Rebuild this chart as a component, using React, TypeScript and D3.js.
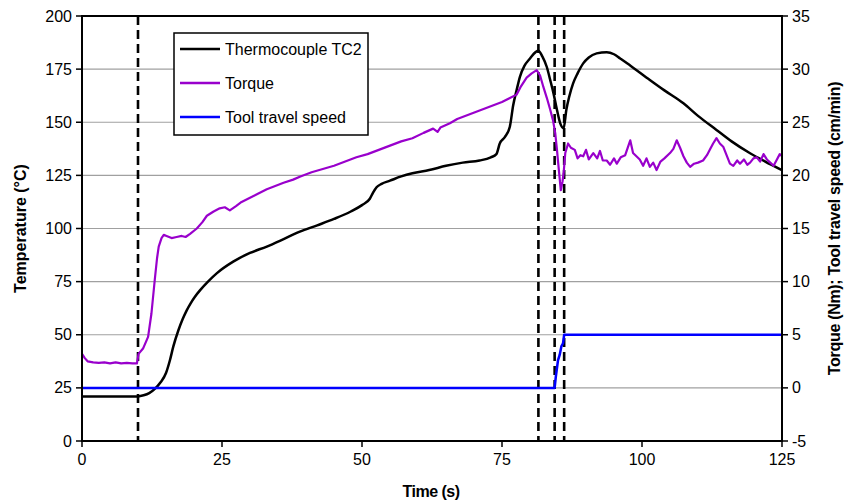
import React from "react";
import * as d3 from "d3";

// ---- Data ----
const tc2Time = [0, 5, 10, 11, 12, 13, 14, 15, 15.7, 16.3, 17.2, 18, 18.7, 19.4, 20.2, 21.1, 22.5, 24.1, 27, 30, 33, 36, 38.9, 42, 45, 48, 50, 51.4, 52, 52.6, 53.5, 55, 57, 59, 62, 65, 68, 71, 73, 74, 74.6, 75.5, 76.4, 77, 77.6, 78.2, 79, 80, 81, 81.5, 82.2, 83, 83.6, 84.2, 84.8, 85.4, 86, 86.5, 87, 87.7, 88.5, 89.5, 90.5, 91.9, 93.7, 95, 96.1, 98, 101.4, 104, 107.4, 110, 113.3, 116, 119.3, 122, 125];
const tc2Temp = [21, 21, 21, 21.5, 22.5, 24.5, 27.5, 32, 38, 44.4, 52, 57.5, 61.5, 64.8, 68, 71, 75, 79, 84.4, 88.5, 91.5, 95, 98.5, 101.5, 104.5, 108, 111, 114, 117, 119.4, 121, 122.5, 124.5, 126, 127.5, 129.5, 131, 132, 133.5, 135, 140, 143, 147.9, 158, 165, 171.4, 176.5, 180, 183, 183.7, 181, 176, 170, 163.6, 156, 149.5, 147.2, 156, 162, 168.3, 173, 177.7, 180.5, 182.4, 183, 182, 180, 176.5, 169.9, 165, 158.9, 153, 146.4, 141, 135.4, 131.5, 127.5];

const torqueTime = [0, 0.5, 1, 2, 3, 4, 5, 6, 7, 8, 9, 9.8, 10.1, 10.9, 11.8, 12.4, 13, 13.4, 13.7, 14.2, 14.6, 15.1, 16, 16.9, 17.8, 18.5, 19.3, 20.5, 21.5, 22.3, 23.5, 24.6, 25.5, 26.4, 27.5, 28.5, 30, 31.5, 33, 34.5, 36, 37.7, 39, 41, 43, 45, 47, 49, 51, 53, 55, 57, 59, 61, 62.7, 63.5, 64, 65.7, 67, 69, 71, 73, 75, 76.5, 77.6, 78.3, 79.4, 80.3, 81.2, 81.8, 82.4, 83, 83.6, 84.1, 84.5, 84.8, 85.1, 85.5, 85.8, 86, 86.3, 86.8, 87.3, 88, 88.5, 89, 89.5, 90, 90.5, 91.3, 92, 92.5, 93, 93.7, 94.3, 95, 95.5, 96.2, 97, 97.9, 98.4, 99, 99.6, 100.2, 100.8, 101.4, 102, 102.6, 103.3, 104, 105, 105.6, 106.2, 106.8, 107.4, 108, 108.6, 109.3, 110, 110.9, 111.6, 112.2, 112.7, 113.3, 113.9, 114.5, 115.1, 115.7, 116.3, 117, 117.5, 118.2, 118.8, 119.3, 119.9, 120.5, 121.1, 121.7, 122.3, 122.9, 123.5, 124, 124.6, 125];
const torqueNm = [3.2, 2.8, 2.5, 2.4, 2.35, 2.4, 2.3, 2.4, 2.3, 2.35, 2.3, 2.3, 3.2, 3.7, 4.8, 7.0, 10.2, 12.2, 13.3, 14.1, 14.4, 14.3, 14.1, 14.2, 14.3, 14.2, 14.5, 15.0, 15.6, 16.2, 16.6, 16.9, 17.0, 16.7, 17.1, 17.5, 17.9, 18.3, 18.7, 19.0, 19.3, 19.6, 19.9, 20.3, 20.6, 20.9, 21.3, 21.7, 22.0, 22.4, 22.8, 23.2, 23.5, 24.0, 24.4, 24.1, 24.5, 24.9, 25.3, 25.7, 26.1, 26.5, 26.9, 27.3, 27.6, 28.3, 29.2, 29.6, 29.9, 29.4, 28.3, 27.3, 26.2, 25.2, 24.0, 22.5, 20.8, 18.6, 19.4, 20.2, 22.1, 23.0, 22.6, 22.4, 21.6, 21.9, 21.8, 22.4, 21.5, 22.1, 21.6, 22.3, 21.4, 21.4, 21.0, 21.6, 21.1, 21.7, 21.9, 23.3, 22.1, 21.8, 21.5, 20.9, 21.6, 20.8, 21.2, 20.5, 21.3, 21.6, 22.1, 22.5, 23.3, 22.6, 21.8, 21.2, 20.8, 21.1, 21.2, 21.4, 21.9, 22.5, 23.0, 23.5, 23.0, 22.7, 21.9, 21.1, 20.9, 21.4, 21.1, 21.5, 21.0, 21.2, 21.6, 21.7, 21.3, 22.0, 21.5, 21.2, 20.9, 21.4, 22.0, 21.8];

const speedTime = [0, 84.4, 84.6, 85, 85.3, 85.6, 85.9, 86.1, 125];
const speedVal = [0, 0, 1.0, 2.6, 3.1, 3.9, 4.2, 5, 5];

const eventTimes = [10, 81.5, 84.4, 86.1];

const xTicks = [0, 25, 50, 75, 100, 125];
const yLeftTicks = [0, 25, 50, 75, 100, 125, 150, 175, 200];
const yRightTicks = [-5, 0, 5, 10, 15, 20, 25, 30, 35];

const legendLabels = ["Thermocouple TC2", "Torque", "Tool travel speed"];
const seriesColors = ["#000000", "#9900CC", "#0000FF"];

// ---- Layout ----
const W = 846, H = 503;
const L = 82, R = 782, T = 16, B = 441;
const FONT = "'Liberation Sans', Arial, sans-serif";

export default function App() {
  const x = d3.scaleLinear().domain([0, 125]).range([L, R]);
  const yL = d3.scaleLinear().domain([0, 200]).range([B, T]);
  const yR = d3.scaleLinear().domain([-5, 35]).range([B, T]);

  const tempLine = d3.line<number>().x((_, i) => x(tc2Time[i])).y((v) => yL(v)).curve(d3.curveMonotoneX);
  const torqueLine = d3.line<number>().x((_, i) => x(torqueTime[i])).y((v) => yR(v));
  const speedLine = d3.line<number>().x((_, i) => x(speedTime[i])).y((v) => yR(v));

  return (
    <svg width={W} height={H} style={{ position: "absolute", left: 0, top: 0, background: "#fff" }} fontFamily={FONT}>
      {/* gridlines */}
      {yLeftTicks.filter((t) => t > 0 && t < 200).map((t) => (
        <line key={"g" + t} x1={L} x2={R} y1={yL(t)} y2={yL(t)} stroke="#a0a0a0" strokeWidth={1.2} />
      ))}
      {/* event dashed lines */}
      {eventTimes.map((t) => (
        <line key={"e" + t} x1={x(t)} x2={x(t)} y1={T} y2={B} stroke="#000" strokeWidth={2.6} strokeDasharray="9,5" />
      ))}
      {/* series */}
      <path d={tempLine(tc2Temp) || ""} fill="none" stroke={seriesColors[0]} strokeWidth={2.5} strokeLinejoin="round" />
      <path d={torqueLine(torqueNm) || ""} fill="none" stroke={seriesColors[1]} strokeWidth={2.2} strokeLinejoin="round" />
      <path d={speedLine(speedVal) || ""} fill="none" stroke={seriesColors[2]} strokeWidth={2.5} strokeLinejoin="round" />
      {/* frame */}
      <rect x={L} y={T} width={R - L} height={B - T} fill="none" stroke="#000" strokeWidth={2} />
      {/* left axis ticks */}
      {yLeftTicks.map((t) => (
        <g key={"yl" + t}>
          <line x1={L - 6} x2={L} y1={yL(t)} y2={yL(t)} stroke="#000" strokeWidth={1.5} />
          <text x={L - 10} y={yL(t)} dy="0.35em" textAnchor="end" fontSize={16} fill="#000">{t}</text>
        </g>
      ))}
      {/* right axis ticks */}
      {yRightTicks.map((t) => (
        <g key={"yr" + t}>
          <line x1={R} x2={R + 6} y1={yR(t)} y2={yR(t)} stroke="#000" strokeWidth={1.5} />
          <text x={R + 10} y={yR(t)} dy="0.35em" textAnchor="start" fontSize={16} fill="#000">{t}</text>
        </g>
      ))}
      {/* x axis ticks */}
      {xTicks.map((t) => (
        <g key={"x" + t}>
          <line x1={x(t)} x2={x(t)} y1={B} y2={B + 6} stroke="#000" strokeWidth={1.5} />
          <text x={x(t)} y={B + 24} textAnchor="middle" fontSize={16} fill="#000">{t}</text>
        </g>
      ))}
      {/* axis titles */}
      <text x={431} y={497} textAnchor="middle" fontSize={16} fontWeight="bold" letterSpacing={-0.5}>Time (s)</text>
      <text transform={`translate(26,${(T + B) / 2}) rotate(-90)`} textAnchor="middle" fontSize={16} fontWeight="bold">Temperature (°C)</text>
      <text transform={`translate(840,${(T + B) / 2}) rotate(-90)`} textAnchor="middle" fontSize={16} fontWeight="bold" letterSpacing={-0.3}>Torque (Nm); Tool travel speed (cm/min)</text>
      {/* legend */}
      <rect x={174} y={33} width={194} height={102} fill="#fff" stroke="#000" strokeWidth={1.5} />
      {legendLabels.map((lab, i) => (
        <g key={lab}>
          <line x1={180} x2={220} y1={49 + i * 34} y2={49 + i * 34} stroke={seriesColors[i]} strokeWidth={2.5} />
          <text x={225} y={49 + i * 34} dy="0.35em" fontSize={16} fill="#000">{lab}</text>
        </g>
      ))}
    </svg>
  );
}
